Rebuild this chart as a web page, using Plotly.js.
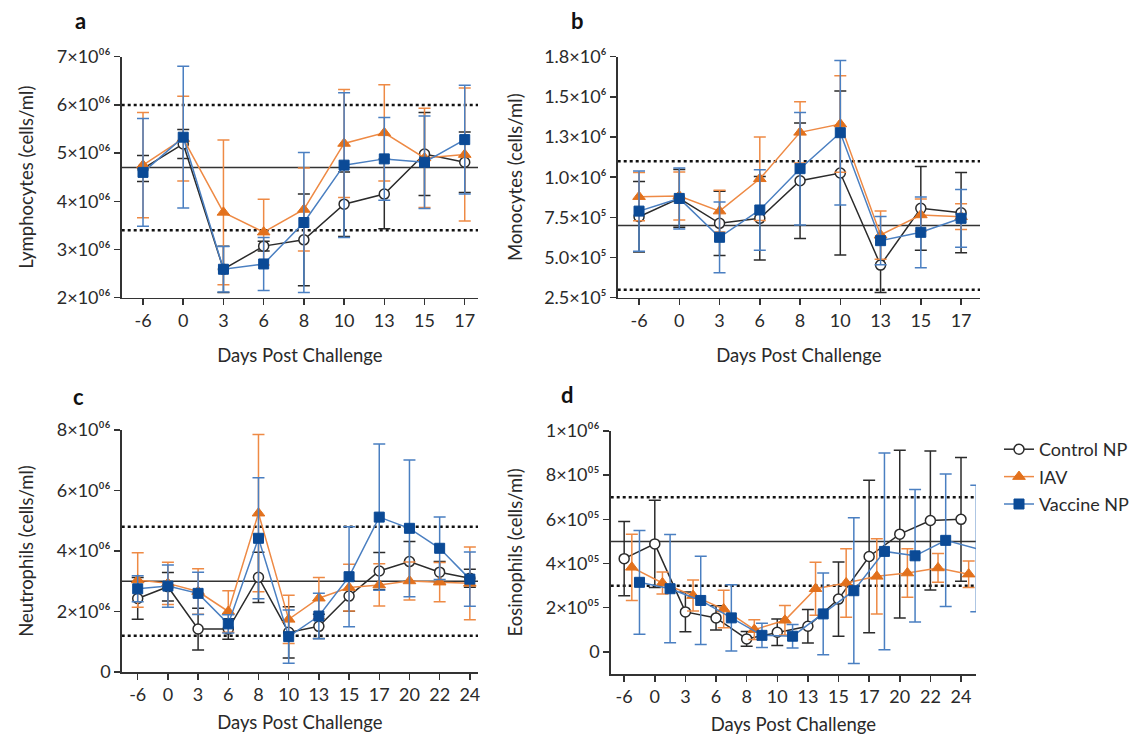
<!DOCTYPE html>
<html>
<head>
<meta charset="utf-8">
<script src="https://cdn.plot.ly/plotly-3.0.1.min.js"></script>
<style>html,body{margin:0;padding:0;background:#fff;}#chart{width:1145px;height:738px;}</style>
</head>
<body>
<div id="chart"></div>
<script>
// ---------- data ----------
const seriesNames = ["Control NP", "IAV", "Vaccine NP"];
const daysAB = ["-6", "0", "3", "6", "8", "10", "13", "15", "17"];
const daysCD = ["-6", "0", "3", "6", "8", "10", "13", "15", "17", "20", "22", "24"];

// a: Lymphocytes (cells/ml)
const lymphControl = [4.68e6, 5.19e6, 2.59e6, 3.07e6, 3.20e6, 3.94e6, 4.15e6, 4.98e6, 4.81e6];
const lymphControlErr = [0.27e6, 0.30e6, 0.48e6, 0.10e6, 0.95e6, 0.67e6, 0.72e6, 0.86e6, 0.63e6];
const lymphIAV = [4.75e6, 5.30e6, 3.77e6, 3.36e6, 3.83e6, 5.20e6, 5.42e6, 4.90e6, 4.97e6];
const lymphIAVErr = [1.09e6, 0.88e6, 1.50e6, 0.68e6, 0.86e6, 1.12e6, 1.00e6, 1.03e6, 1.38e6];
const lymphVaccine = [4.60e6, 5.33e6, 2.59e6, 2.70e6, 3.56e6, 4.75e6, 4.88e6, 4.81e6, 5.28e6];
const lymphVaccineErr = [1.12e6, 1.47e6, 0.47e6, 0.55e6, 1.45e6, 1.50e6, 0.86e6, 0.96e6, 1.13e6];
const lymphRefDotted = [3.4e6, 6.0e6];
const lymphRefSolid = 4.7e6;

// b: Monocytes (cells/ml)
const monoControl = [0.754e6, 0.868e6, 0.713e6, 0.744e6, 0.978e6, 1.026e6, 0.453e6, 0.806e6, 0.779e6];
const monoControlErr = [0.22e6, 0.18e6, 0.20e6, 0.26e6, 0.36e6, 0.51e6, 0.17e6, 0.26e6, 0.25e6];
const monoIAV = [0.879e6, 0.883e6, 0.789e6, 0.990e6, 1.279e6, 1.331e6, 0.640e6, 0.765e6, 0.754e6];
const monoIAVErr = [0.15e6, 0.15e6, 0.13e6, 0.26e6, 0.19e6, 0.30e6, 0.15e6, 0.10e6, 0.08e6];
const monoVaccine = [0.789e6, 0.868e6, 0.626e6, 0.796e6, 1.053e6, 1.277e6, 0.605e6, 0.657e6, 0.744e6];
const monoVaccineErr = [0.25e6, 0.19e6, 0.22e6, 0.25e6, 0.35e6, 0.45e6, 0.15e6, 0.22e6, 0.18e6];
const monoRefDotted = [0.3e6, 1.1e6];
const monoRefSolid = 0.7e6;

// c: Neutrophils (cells/ml)
const neutControl = [2.43e6, 2.82e6, 1.42e6, 1.42e6, 3.13e6, 1.31e6, 1.51e6, 2.51e6, 3.34e6, 3.65e6, 3.30e6, 3.10e6];
const neutControlErr = [0.69e6, 0.47e6, 0.69e6, 0.34e6, 0.83e6, 0.85e6, 0.40e6, 0.50e6, 0.61e6, 0.66e6, 0.35e6, 0.30e6];
const neutIAV = [3.04e6, 2.93e6, 2.66e6, 2.00e6, 5.25e6, 1.74e6, 2.44e6, 2.79e6, 2.88e6, 3.01e6, 2.97e6, 2.93e6];
const neutIAVErr = [0.90e6, 0.70e6, 0.75e6, 0.69e6, 2.60e6, 0.80e6, 0.68e6, 0.77e6, 0.70e6, 0.63e6, 0.65e6, 1.20e6];
const neutVaccine = [2.75e6, 2.84e6, 2.60e6, 1.59e6, 4.42e6, 1.17e6, 1.85e6, 3.15e6, 5.12e6, 4.75e6, 4.09e6, 3.07e6];
const neutVaccineErr = [0.43e6, 0.70e6, 0.70e6, 0.30e6, 2.00e6, 0.88e6, 0.75e6, 1.65e6, 2.42e6, 2.26e6, 1.03e6, 0.90e6];
const neutRefDotted = [1.2e6, 4.8e6];
const neutRefSolid = 3.0e6;

// d: Eosinophils (cells/ml)
const eosControl = [4.22e5, 4.89e5, 1.81e5, 1.54e5, 0.59e5, 0.89e5, 1.16e5, 2.39e5, 4.32e5, 5.33e5, 5.95e5, 6.00e5];
const eosControlErr = [1.68e5, 1.97e5, 0.90e5, 0.55e5, 0.33e5, 0.60e5, 0.76e5, 1.68e5, 3.45e5, 3.80e5, 3.15e5, 2.80e5];
const eosIAV = [3.83e5, 3.12e5, 2.55e5, 1.94e5, 1.01e5, 1.43e5, 2.86e5, 3.12e5, 3.42e5, 3.57e5, 3.80e5, 3.52e5];
const eosIAVErr = [1.50e5, 0.50e5, 0.70e5, 0.85e5, 0.45e5, 0.67e5, 1.20e5, 1.55e5, 1.70e5, 1.10e5, 0.65e5, 0.60e5];
const eosVaccine = [3.15e5, 2.86e5, 2.33e5, 1.54e5, 0.75e5, 0.71e5, 1.72e5, 2.77e5, 4.55e5, 4.35e5, 5.05e5, 4.68e5];
const eosVaccineErr = [2.35e5, 2.45e5, 2.00e5, 1.50e5, 0.55e5, 0.53e5, 1.85e5, 3.30e5, 4.45e5, 3.00e5, 3.00e5, 2.86e5];
const eosRefDotted = [3e5, 7e5];
const eosRefSolid = 5e5;

// y tick labels
const lymphTickVals = [2e6, 3e6, 4e6, 5e6, 6e6, 7e6];
const lymphTickText = ["2×10⁰⁶", "3×10⁰⁶", "4×10⁰⁶", "5×10⁰⁶", "6×10⁰⁶", "7×10⁰⁶"];
const monoTickVals = [0.25e6, 0.5e6, 0.75e6, 1.0e6, 1.25e6, 1.5e6, 1.75e6];
const monoTickText = ["2.5×10⁵", "5.0×10⁵", "7.5×10⁵", "1.0×10⁶", "1.3×10⁶", "1.5×10⁶", "1.8×10⁶"];
const neutTickVals = [0, 2e6, 4e6, 6e6, 8e6];
const neutTickText = ["0", "2×10⁰⁶", "4×10⁰⁶", "6×10⁰⁶", "8×10⁰⁶"];
const eosTickVals = [0, 2e5, 4e5, 6e5, 8e5, 1e6];
const eosTickText = ["0", "2×10⁰⁵", "4×10⁰⁵", "6×10⁰⁵", "8×10⁰⁵", "1×10⁰⁶"];

// ---------- styles ----------
const FONT = "Lato, 'Open Sans', 'DejaVu Sans', sans-serif";
const styles = [
  {line: "#2b2b2b", marker: {symbol: "circle", size: 10, color: "#ffffff", line: {color: "#2b2b2b", width: 1.5}}, err: "#2b2b2b"},
  {line: "#ee8a45", marker: {symbol: "triangle-up", size: 11, color: "#e2711d", line: {color: "#e2711d", width: 1}}, err: "#ee8a45"},
  {line: "#4a7fc1", marker: {symbol: "square", size: 10, color: "#0b4a96", line: {color: "#0b4a96", width: 1}}, err: "#4a7fc1"}
];

const panels = [
  {xa: "x", ya: "y", cats: daysAB, data: [[lymphControl, lymphControlErr], [lymphIAV, lymphIAVErr], [lymphVaccine, lymphVaccineErr]], dodge: [0, 0, 0], legend: true},
  {xa: "x2", ya: "y2", cats: daysAB, data: [[monoControl, monoControlErr], [monoIAV, monoIAVErr], [monoVaccine, monoVaccineErr]], dodge: [0, 0, 0], legend: false},
  {xa: "x3", ya: "y3", cats: daysCD, data: [[neutControl, neutControlErr], [neutIAV, neutIAVErr], [neutVaccine, neutVaccineErr]], dodge: [0, 0, 0], legend: false},
  {xa: "x4", ya: "y4", cats: daysCD, data: [[eosControl, eosControlErr], [eosIAV, eosIAVErr], [eosVaccine, eosVaccineErr]], dodge: [0, 0.25, 0.5], legend: false}
];

const traces = [];
panels.forEach(p => {
  p.data.forEach((d, s) => {
    traces.push({
      type: "scatter", mode: "lines+markers",
      x: p.cats.map((_, i) => i + p.dodge[s]),
      y: d[0],
      error_y: {type: "data", array: d[1], visible: true, color: styles[s].err, thickness: 1.5, width: 6},
      line: {color: styles[s].line, width: 1.5},
      marker: styles[s].marker,
      name: seriesNames[s], legendgroup: seriesNames[s], showlegend: p.legend,
      xaxis: p.xa, yaxis: p.ya, cliponaxis: false
    });
  });
});

function px2x(px) { return px / 1145; }
function px2y(py) { return 1 - py / 738; }

const tickFont = {family: FONT, size: 18, color: "#2a2a2a"};
const titleFont = {family: FONT, size: 18.5, color: "#2a2a2a"};

function xAxis(dom, cats, range, anchor, standoff) {
  return {domain: dom, anchor: anchor, range: range, tickmode: "array", tickvals: cats.map((_, i) => i), ticktext: cats,
    showline: true, linecolor: "#333", linewidth: 1.5, ticks: "outside", ticklen: 6, tickwidth: 1.5, tickcolor: "#333",
    showgrid: false, zeroline: false, tickfont: tickFont,
    title: {text: "Days Post Challenge", font: titleFont, standoff: standoff}};
}
function yAxis(dom, range, tv, tt, title, anchor, standoff) {
  return {domain: dom, anchor: anchor, range: range, tickmode: "array", tickvals: tv, ticktext: tt,
    showline: true, linecolor: "#333", linewidth: 1.5, ticks: "outside", ticklen: 6, tickwidth: 1.5, tickcolor: "#333",
    showgrid: false, zeroline: false, tickfont: tickFont,
    title: {text: title, font: titleFont, standoff: standoff}};
}

const domA = [px2x(121.7), px2x(478)], domB = [px2x(617.7), px2x(980)];
const domC = [px2x(121.7), px2x(478)], domD = [px2x(610.7), px2x(976)];
const yTop = [px2y(297.7), px2y(56.7)];
const yBotC = [px2y(672), px2y(430)];
const yBotD = [px2y(674), px2y(431)];

const shapes = [];
function refLines(xa, ya, dotted, solid) {
  dotted.forEach(v => shapes.push({type: "line", xref: xa + " domain", yref: ya, x0: 0, x1: 1, y0: v, y1: v, line: {color: "#111", width: 2.5, dash: "dot"}, layer: "below"}));
  shapes.push({type: "line", xref: xa + " domain", yref: ya, x0: 0, x1: 1, y0: solid, y1: solid, line: {color: "#333", width: 1.5}, layer: "below"});
}
refLines("x", "y", lymphRefDotted, lymphRefSolid);
refLines("x2", "y2", monoRefDotted, monoRefSolid);
refLines("x3", "y3", neutRefDotted, neutRefSolid);
refLines("x4", "y4", eosRefDotted, eosRefSolid);

const panelLetters = [["a", 80, 20], ["b", 577, 20], ["c", 78, 396], ["d", 567, 394]];
const annotations = panelLetters.map(([t, x, y]) => ({text: "<b>" + t + "</b>", xref: "paper", yref: "paper", x: px2x(x), y: px2y(y), xanchor: "center", yanchor: "middle", showarrow: false, font: {family: FONT, size: 22, color: "#111"}}));

const layout = {
  width: 1145, height: 738, margin: {l: 0, r: 0, t: 0, b: 0},
  paper_bgcolor: "#fff", plot_bgcolor: "#fff",
  showlegend: true,
  legend: {x: px2x(999), y: px2y(431), xanchor: "left", yanchor: "top", font: {family: FONT, size: 18, color: "#2a2a2a"}, bgcolor: "rgba(0,0,0,0)", itemwidth: 30, tracegroupgap: 1},
  xaxis: xAxis(domA, daysAB, [-0.53, 8.33], "y", 19),
  yaxis: yAxis(yTop, [2e6, 7e6], lymphTickVals, lymphTickText, "Lymphocytes (cells/ml)", "x", 18),
  xaxis2: xAxis(domB, daysAB, [-0.53, 8.47], "y2", 19),
  yaxis2: yAxis(yTop, [0.25e6, 1.75e6], monoTickVals, monoTickText, "Monocytes (cells/ml)", "x2", 16),
  xaxis3: xAxis(domC, daysCD, [-0.53, 11.27], "y3", 12),
  yaxis3: yAxis(yBotC, [0, 8e6], neutTickVals, neutTickText, "Neutrophils (cells/ml)", "x3", 18),
  xaxis4: xAxis(domD, daysCD, [-0.44, 11.49], "y4", 12),
  yaxis4: yAxis(yBotD, [-1e5, 1e6], eosTickVals, eosTickText, "Eosinophils (cells/ml)", "x4", 18),
  shapes: shapes,
  annotations: annotations,
  font: {family: FONT}
};

Plotly.newPlot("chart", traces, layout, {displayModeBar: false, staticPlot: true});
</script>
</body>
</html>
